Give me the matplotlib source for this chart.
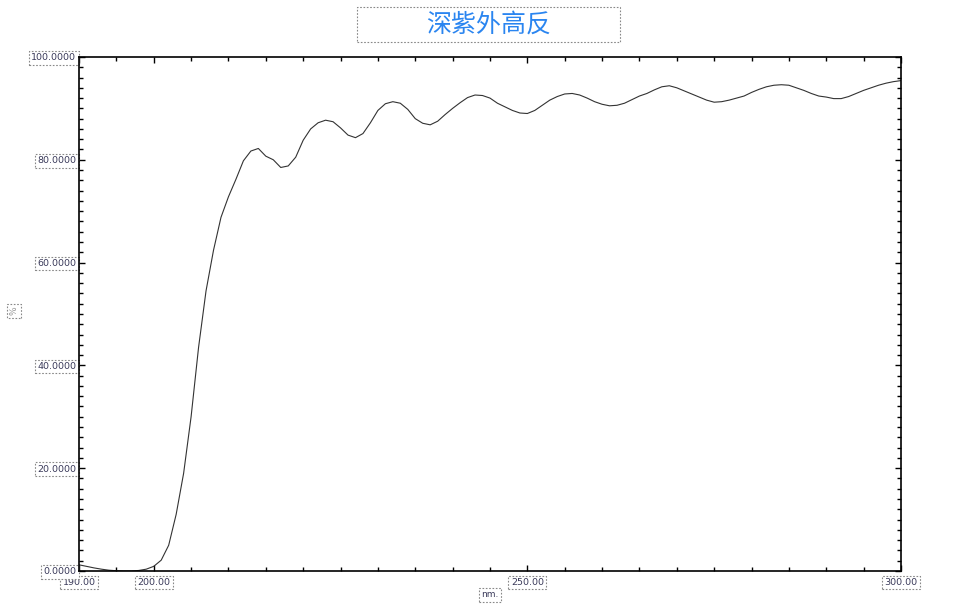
# UV transmittance curve, 190-300 nm

import matplotlib.pyplot as plt
from matplotlib.patches import Rectangle
from matplotlib.ticker import MultipleLocator

title = '深紫外高反'
x_label = 'nm.'
y_label = '%'

wavelength = [190, 191, 192, 193, 194, 195, 196, 197, 198, 199,
              200, 201, 202, 203, 204, 205, 206, 207, 208, 209,
              210, 211, 212, 213, 214, 215, 216, 217, 218, 219,
              220, 221, 222, 223, 224, 225, 226, 227, 228, 229,
              230, 231, 232, 233, 234, 235, 236, 237, 238, 239,
              240, 241, 242, 243, 244, 245, 246, 247, 248, 249,
              250, 251, 252, 253, 254, 255, 256, 257, 258, 259,
              260, 261, 262, 263, 264, 265, 266, 267, 268, 269,
              270, 271, 272, 273, 274, 275, 276, 277, 278, 279,
              280, 281, 282, 283, 284, 285, 286, 287, 288, 289,
              290, 291, 292, 293, 294, 295, 296, 297, 298, 299, 300]
transmittance = [1.2, 0.9, 0.6, 0.35, 0.15, 0.05, 0.0, 0.0, 0.1, 0.35,
                 0.9, 2.1, 5.0, 11.0, 19.0, 30.0, 43.5, 54.5, 62.4, 68.8,
                 72.8, 76.2, 79.8, 81.7, 82.2, 80.7, 80.0, 78.5, 78.8, 80.5,
                 83.8, 86.0, 87.2, 87.7, 87.4, 86.2, 84.8, 84.3, 85.1, 87.2,
                 89.6, 90.9, 91.3, 91.0, 89.8, 88.0, 87.1, 86.8, 87.5, 88.8,
                 90.0, 91.1, 92.1, 92.6, 92.5, 92.0, 91.0, 90.3, 89.6, 89.1,
                 89.0, 89.6, 90.6, 91.6, 92.3, 92.8, 92.9, 92.6, 92.0, 91.3,
                 90.8, 90.5, 90.6, 91.0, 91.7, 92.4, 92.9, 93.6, 94.2, 94.4,
                 94.0, 93.4, 92.8, 92.2, 91.6, 91.2, 91.3, 91.6, 92.0, 92.4,
                 93.1, 93.7, 94.2, 94.5, 94.6, 94.5, 94.0, 93.5, 92.9, 92.4,
                 92.2, 91.9, 91.9, 92.3, 92.9, 93.5, 94.0, 94.5, 94.9, 95.2, 95.4]

x_ticks = [190, 200, 250, 300]
x_tick_labels = ['190.00', '200.00', '250.00', '300.00']
y_ticks = [0, 20, 40, 60, 80, 100]
y_tick_labels = ['0.0000', '20.0000', '40.0000', '60.0000', '80.0000', '100.0000']

box = dict(boxstyle='square,pad=0.25', fc='white', ec='#888888', ls=(0, (1.5, 1.5)), lw=0.8)
label_color = '#3a3a5a'

fig = plt.figure(figsize=(9.6, 6.08), dpi=100)
ax = fig.add_axes([0.0823, 0.0609, 0.8562, 0.8454])

ax.plot(wavelength, transmittance, color='#333333', lw=0.8)

ax.set_xlim(190, 300)
ax.set_ylim(0, 100)
ax.set_xticks(x_ticks)
ax.set_xticklabels(x_tick_labels)
ax.set_yticks(y_ticks)
ax.set_yticklabels(y_tick_labels)
ax.xaxis.set_minor_locator(MultipleLocator(5))
ax.yaxis.set_minor_locator(MultipleLocator(2))

ax.tick_params(which='both', direction='in', top=True, right=True, width=1,
               labelsize=6.8, labelcolor=label_color)
ax.tick_params(which='major', length=4)
ax.tick_params(which='minor', length=3)
ax.tick_params(axis='x', pad=5)
ax.tick_params(axis='y', pad=2)
for lab in ax.get_xticklabels() + ax.get_yticklabels():
    lab.set_bbox(box)
for s in ax.spines.values():
    s.set_linewidth(1.2)

fig.text(0.5104, 0.0214, x_label, fontsize=6.5, color=label_color,
         ha='center', va='center', bbox=box)
fig.text(0.0146, 0.4885, y_label, fontsize=6.5, color='#999999', rotation=90,
         ha='center', va='center', bbox=box)

# title in a dashed frame
fig.patches.append(Rectangle((0.372, 0.931), 0.274, 0.0576, transform=fig.transFigure,
                             fill=False, ec='#888888', lw=0.8, ls=(0, (1.5, 1.5))))
fig.text(0.5089, 0.9597, title, fontsize=18, color='#2a85f0', ha='center', va='center',
         family=['Noto Sans CJK SC', 'DejaVu Sans'])

plt.savefig('out.png')
